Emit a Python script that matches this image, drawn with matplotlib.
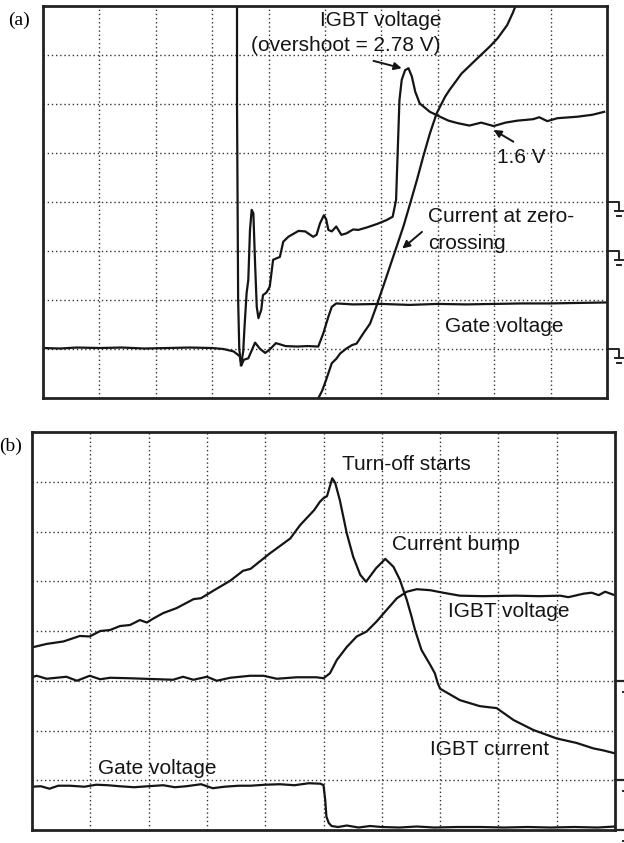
"""
Two oscilloscope captures of an IGBT switching: (a) turn-on, (b) turn-off.
Traces are in screen divisions (10 x 8 graticule), read off the captures.
"""
import matplotlib
matplotlib.use("Agg")
import matplotlib.pyplot as plt

# ---------------- panel (a) ----------------
a_gate_x = [0, 0.3, 0.6, 1.0, 1.4, 1.8, 2.2, 2.6, 3.0, 3.2, 3.38, 3.49, 3.52, 3.56,
            3.64, 3.76, 3.85, 3.94, 4.02, 4.13, 4.3, 4.5, 4.7, 4.88, 4.97, 5.06,
            5.12, 5.2, 5.5, 6.0, 6.5, 7.0, 7.5, 8.0, 8.5, 9.0, 9.5, 10.0]
a_gate_y = [1.02, 1.01, 1.03, 1.02, 1.03, 1.01, 1.02, 1.03, 1.02, 1.0, 0.95, 0.85,
            0.67, 0.78, 0.81, 1.13, 1.0, 0.92, 0.99, 1.12, 1.06, 1.05, 1.06, 1.05,
            1.32, 1.66, 1.86, 1.93, 1.91, 1.92, 1.90, 1.92, 1.91, 1.92, 1.93, 1.93,
            1.94, 1.95]

a_vce_x = [3.51, 3.55, 3.57, 3.61, 3.64, 3.67, 3.70, 3.73, 3.76, 3.79, 3.82, 3.87,
           3.90, 3.96, 4.02, 4.08, 4.14, 4.20, 4.26, 4.35, 4.53, 4.65, 4.79, 4.85,
           4.91, 4.98, 5.02, 5.06, 5.12, 5.20, 5.29, 5.38, 5.50, 5.59, 5.74, 5.92,
           6.09, 6.20, 6.26, 6.29, 6.32, 6.36, 6.42, 6.48, 6.54, 6.60, 6.68, 6.86,
           7.04, 7.19, 7.35, 7.56, 7.77, 7.99, 8.20, 8.41, 8.69, 8.80, 8.94, 9.12,
           9.47, 9.74, 9.95]
a_vce_y = [0.67, 0.95, 1.39, 2.14, 2.41, 3.43, 3.84, 3.77, 2.75, 1.86, 1.63, 1.80,
           2.10, 2.15, 2.27, 2.82, 2.85, 2.88, 3.19, 3.29, 3.41, 3.40, 3.29, 3.33,
           3.56, 3.73, 3.65, 3.43, 3.40, 3.50, 3.33, 3.36, 3.44, 3.43, 3.48, 3.55,
           3.63, 3.70, 4.04, 5.06, 6.08, 6.49, 6.69, 6.73, 6.56, 6.25, 6.01, 5.84,
           5.74, 5.66, 5.61, 5.56, 5.62, 5.55, 5.62, 5.66, 5.69, 5.73, 5.65, 5.71,
           5.74, 5.78, 5.84]

# current: steep fall off-screen, then back through zero
a_i1_x = [3.44, 3.44, 3.45, 3.46, 3.48, 3.51]
a_i1_y = [8.3, 6.0, 4.0, 2.0, 1.0, 0.67]
a_i2_x = [4.84, 4.95, 5.02, 5.12, 5.20, 5.27, 5.38, 5.48, 5.56, 5.68, 5.80, 5.92,
          6.03, 6.15, 6.27, 6.39, 6.51, 6.63, 6.74, 6.86, 6.98, 7.13, 7.21, 7.42,
          7.70, 7.92, 8.06, 8.23, 8.33, 8.43]
a_i2_y = [-0.1, 0.15, 0.37, 0.71, 0.80, 0.91, 1.01, 1.08, 1.11, 1.32, 1.52, 1.90,
          2.27, 2.68, 3.09, 3.50, 3.97, 4.45, 4.92, 5.40, 5.81, 6.15, 6.29, 6.62,
          6.93, 7.17, 7.34, 7.61, 7.86, 8.15]
a_ground_levels = [4, 3, 1]

# ---------------- panel (b) ----------------
b_i_x = [0.0, 0.25, 0.54, 0.82, 0.99, 1.17, 1.34, 1.51, 1.68, 1.85, 1.97, 2.08,
         2.25, 2.48, 2.77, 2.90, 3.11, 3.40, 3.62, 3.75, 4.08, 4.43, 4.60, 4.84,
         4.94, 5.00, 5.06, 5.15, 5.20, 5.28, 5.40, 5.51, 5.63, 5.73, 5.90, 6.06,
         6.20, 6.31, 6.43, 6.51, 6.57, 6.68, 6.83, 6.91, 6.96, 7.00, 7.34, 7.51,
         7.68, 7.82, 7.97, 8.26, 8.60, 9.00, 9.34, 9.63, 9.80, 10.0]
b_i_y = [3.67, 3.74, 3.79, 3.90, 3.89, 4.00, 4.02, 4.10, 4.12, 4.22, 4.17, 4.25,
         4.36, 4.46, 4.64, 4.66, 4.81, 5.01, 5.21, 5.25, 5.56, 5.86, 6.13, 6.43,
         6.60, 6.67, 6.71, 7.07, 6.98, 6.63, 5.96, 5.49, 5.13, 4.99, 5.26, 5.45,
         5.29, 5.03, 4.62, 4.29, 4.02, 3.62, 3.32, 3.15, 2.95, 2.84, 2.61, 2.55,
         2.49, 2.47, 2.45, 2.21, 2.01, 1.84, 1.75, 1.64, 1.60, 1.54]

b_v_x = [0.0, 0.08, 0.25, 0.59, 0.77, 0.99, 1.17, 1.34, 1.68, 2.42, 2.59, 2.77,
         3.00, 3.17, 3.40, 3.74, 3.97, 4.20, 4.54, 4.88, 5.00, 5.11, 5.23, 5.40,
         5.57, 5.74, 5.91, 6.08, 6.26, 6.43, 6.60, 6.83, 7.05, 7.34, 7.74, 8.30,
         8.70, 9.06, 9.20, 9.46, 9.60, 9.72, 9.83, 9.97]
b_v_y = [3.07, 3.10, 3.04, 3.08, 3.00, 3.10, 3.03, 3.06, 3.05, 3.02, 3.08, 3.02,
         3.08, 3.00, 3.06, 3.10, 3.10, 3.04, 3.07, 3.07, 3.05, 3.15, 3.42, 3.68,
         3.89, 3.99, 4.19, 4.42, 4.66, 4.79, 4.84, 4.82, 4.77, 4.71, 4.70, 4.71,
         4.70, 4.71, 4.68, 4.75, 4.77, 4.72, 4.79, 4.73]

b_gate_x = [0, 0.15, 0.3, 0.45, 0.65, 0.9, 1.1, 1.3, 1.5, 1.75, 2.0, 2.25, 2.45,
            2.65, 2.9, 3.1, 3.3, 3.55, 3.75, 4.0, 4.25, 4.5, 4.75, 4.95, 5.0,
            5.03, 5.05, 5.09, 5.14, 5.25, 5.4, 5.6, 5.8, 6.0, 6.3, 6.6, 6.9, 7.3,
            7.7, 8.1, 8.5, 8.9, 9.3, 9.7, 10.0]
b_gate_y = [0.87, 0.88, 0.83, 0.89, 0.89, 0.87, 0.91, 0.90, 0.88, 0.86, 0.88,
            0.90, 0.86, 0.88, 0.92, 0.84, 0.87, 0.89, 0.89, 0.91, 0.92, 0.90,
            0.94, 0.93, 0.90, 0.60, 0.27, 0.14, 0.08, 0.06, 0.09, 0.05, 0.08,
            0.06, 0.05, 0.07, 0.05, 0.06, 0.06, 0.05, 0.06, 0.05, 0.06, 0.05, 0.07]
b_ground_levels = [3, 1, 0]

trace = dict(color="#151515", lw=1.6, solid_joinstyle="round")
label_font = dict(family="Liberation Sans", fontsize=15, color="#151515")
arrow = dict(arrowstyle="-|>", color="#151515", lw=1.4, mutation_scale=11,
             shrinkA=0, shrinkB=0)

W, H = 624, 843
fig = plt.figure(figsize=(W / 100, H / 100), dpi=100)
ax_a = fig.add_axes([43 / W, 1 - 398 / H, 564 / W, 392 / H])
ax_b = fig.add_axes([32 / W, 1 - 830 / H, 583 / W, 398 / H])


def graticule(ax):
    ax.set_xlim(0, 10)
    ax.set_ylim(0, 8)
    ax.set_xticks([])
    ax.set_yticks([])
    for k in range(1, 10):
        ax.axvline(k, color="#333333", lw=1.0, ls=(0, (1, 2)), zorder=1)
    for k in range(1, 8):
        ax.axhline(k, color="#333333", lw=1.0, ls=(0, (1, 2)), zorder=1)
    for s in ax.spines.values():
        s.set_linewidth(2.0)
        s.set_color("#222222")


graticule(ax_a)
graticule(ax_b)

# panel (a) traces
ax_a.plot(a_gate_x, a_gate_y, **trace)
ax_a.plot(a_vce_x, a_vce_y, **trace)
ax_a.plot(a_i1_x, a_i1_y, **trace)
ax_a.plot(a_i2_x, a_i2_y, **trace)

# ground markers on the right edge
for lev in a_ground_levels:
    ax_a.plot([10, 10.205, 10.205], [lev, lev, lev - 0.19], color="#222222",
              lw=1.4, clip_on=False)
    ax_a.plot([10.135, 10.28], [lev - 0.19, lev - 0.19], color="#222222",
              lw=1.4, clip_on=False)
    ax_a.plot([10.18, 10.24], [lev - 0.28, lev - 0.28], color="#222222",
              lw=1.4, clip_on=False)

ax_a.text(4.91, 7.70, "IGBT voltage", ha="left", va="center", **label_font)
ax_a.text(3.68, 7.20, "(overshoot = 2.78 V)", ha="left", va="center", **label_font)
ax_a.annotate("", xy=(6.36, 6.73), xytext=(5.86, 6.88), arrowprops=arrow)
ax_a.text(8.48, 4.90, "1.6 V", ha="center", va="center", **label_font)
ax_a.annotate("", xy=(7.99, 5.47), xytext=(8.34, 5.23), arrowprops=arrow)
ax_a.text(6.82, 3.71, "Current at zero-", ha="left", va="center", **label_font)
ax_a.text(6.82, 3.16, "crossing", ha="left", va="center", **label_font)
ax_a.annotate("", xy=(6.37, 3.05), xytext=(6.72, 3.39), arrowprops=arrow)
ax_a.text(8.18, 1.46, "Gate voltage", ha="center", va="center", **label_font)

# panel (b) traces
ax_b.plot(b_i_x, b_i_y, **trace)
ax_b.plot(b_v_x, b_v_y, **trace)
ax_b.plot(b_gate_x, b_gate_y, **trace)

for lev in b_ground_levels:
    ax_b.plot([10, 10.2], [lev, lev], color="#222222", lw=1.6, clip_on=False)
    ax_b.plot([10.13, 10.16], [lev - 0.22, lev - 0.22], color="#222222",
              lw=1.4, clip_on=False)

ax_b.text(5.32, 7.34, "Turn-off starts", ha="left", va="center", **label_font)
ax_b.text(6.17, 5.73, "Current bump", ha="left", va="center", **label_font)
ax_b.text(7.13, 4.39, "IGBT voltage", ha="left", va="center", **label_font)
ax_b.text(6.82, 1.61, "IGBT current", ha="left", va="center", **label_font)
ax_b.text(1.14, 1.24, "Gate voltage", ha="left", va="center", **label_font)

# panel letters
fig.text(19 / W, 1 - 20 / H, "(a)", ha="center", va="center",
         family="Liberation Serif", fontsize=14)
fig.text(11 / W, 1 - 446 / H, "(b)", ha="center", va="center",
         family="Liberation Serif", fontsize=14)

fig.savefig("out.png", dpi=100)
